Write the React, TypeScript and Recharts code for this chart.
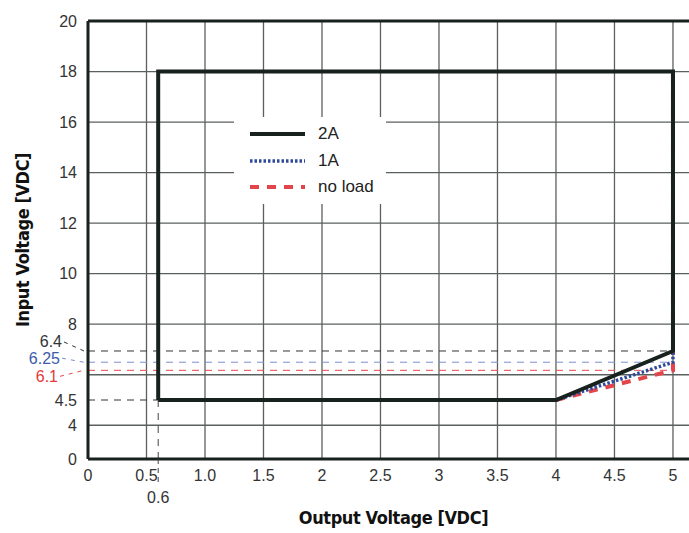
import React from 'react';
import { LineChart, Line, XAxis, YAxis, ReferenceLine, Legend } from 'recharts';

// output voltage axis
const xTicks = [0, 0.5, 0.6, 1, 1.5, 2, 2.5, 3, 3.5, 4, 4.5, 5];
const xTickLabels = ['0', '0.5', '0.6', '1.0', '1.5', '2', '2.5', '3', '3.5', '4', '4.5', '5'];
const xGrid = [0.5, 1, 1.5, 2, 2.5, 3, 3.5, 4, 4.5, 5];

// input voltage axis (drawn non-linear in the datasheet)
const yTicks = [0, 4, 4.5, 6.1, 6.25, 6.4, 8, 10, 12, 14, 16, 18, 20];
const yTickLabels = ['0', '4', '4.5', '6.1', '6.25', '6.4', '8', '10', '12', '14', '16', '18', '20'];
const yGrid = [4, 6, 8, 10, 12, 14, 16, 18];
// breakpoints of that axis: real volts -> drawn units
const yAxisReal = [0, 4, 4.5, 6, 6.1, 6.25, 6.4, 8, 20];
const yAxisDrawn = [0, 1.335, 2.335, 3.335, 3.51, 3.83, 4.275, 5.335, 17.335];

// operating area per load
const seriesNames = ['2A', '1A', 'no load'];
const vout2A = [0.6, 0.6, 5, 5, 4, 0.6];
const vin2A = [4.5, 18, 18, 6.4, 4.5, 4.5];
const vout1A = [4, 5, 5];
const vin1A = [4.5, 6.25, 18];
const voutNoLoad = [4, 5, 5];
const vinNoLoad = [4.5, 6.1, 18];

// min input voltage markers
const vinMarks = [6.4, 6.25, 6.1];
const minVout = 0.6;
const minVin = 4.5;

const X_MAX = 5.137;

function toDrawn(v: number) {
  for (let i = 1; i < yAxisReal.length; i++) {
    if (v <= yAxisReal[i]) {
      const a = yAxisReal[i - 1], b = yAxisReal[i];
      const t = (v - a) / (b - a);
      return yAxisDrawn[i - 1] + t * (yAxisDrawn[i] - yAxisDrawn[i - 1]);
    }
  }
  return yAxisDrawn[yAxisDrawn.length - 1];
}

const toPoints = (xs: number[], ys: number[]) => xs.map((x, i) => ({ x, y: toDrawn(ys[i]) }));

const FRAME = '#17211e';
const GRID = '#5a605d';
const BLUE = '#2f4a9c';
const RED = '#e2464a';
const FONT = "'Liberation Sans', Arial, sans-serif";
const TITLE_FONT = "'Liberation Sans Narrow', 'DejaVu Sans Condensed', 'Liberation Sans', sans-serif";
const titleStyle = { fontFamily: TITLE_FONT, fontWeight: 700, fontSize: 18, letterSpacing: -0.4, fill: '#111' };

const markStyle: Record<string, { color: string; line: string; dx: number; dy: number }> = {
  '6.4': { color: '#333', line: '#333', dx: -26, dy: -9 },
  '6.25': { color: '#3d5ba9', line: '#7b8fcc', dx: -28, dy: -4 },
  '6.1': { color: '#e5383b', line: '#e8474c', dx: -30, dy: 6 },
};

function YTick(props: any) {
  const { x, y, index } = props;
  const label = yTickLabels[index];
  const s = markStyle[label];
  if (s) {
    return (
      <g>
        <text x={x + s.dx} y={y + s.dy} textAnchor="end" dominantBaseline="central"
          fontSize={16} fill={s.color} fontFamily={FONT}>{label}</text>
        <line x1={x + s.dx + 2} y1={y + s.dy} x2={x - 4} y2={y} stroke={s.line}
          strokeWidth={1} strokeDasharray="4 5" />
      </g>
    );
  }
  return (
    <text x={x - 11} y={y} textAnchor="end" dominantBaseline="central"
      fontSize={16} fill="#333" fontFamily={FONT}>{label}</text>
  );
}

function XTick(props: any) {
  const { x, y, index } = props;
  const label = xTickLabels[index];
  if (label === '0.6') {
    return (
      <g>
        <line x1={x} y1={y} x2={x} y2={y + 25} stroke="#444" strokeDasharray="5 4" strokeWidth={1} />
        <text x={x} y={y + 38} textAnchor="middle" dominantBaseline="central"
          fontSize={16} fill="#333" fontFamily={FONT}>{label}</text>
      </g>
    );
  }
  return (
    <text x={x} y={y + 16} textAnchor="middle" dominantBaseline="central"
      fontSize={16} fill="#333" fontFamily={FONT}>{label}</text>
  );
}

function LegendBox() {
  const samples = [
    { stroke: FRAME, width: 4, dash: undefined },
    { stroke: BLUE, width: 3.5, dash: '2.5 2' },
    { stroke: RED, width: 4, dash: '9 8' },
  ];
  return (
    <div style={{ background: '#fff', width: 152, height: 87, boxSizing: 'border-box', paddingTop: 4 }}>
      {seriesNames.map((name, i) => (
        <div key={name} style={{ display: 'flex', alignItems: 'center', height: 26.5 }}>
          <svg width={84} height={10} style={{ display: 'block' }}>
            <line x1={16} y1={5} x2={71} y2={5} stroke={samples[i].stroke}
              strokeWidth={samples[i].width} strokeDasharray={samples[i].dash} />
          </svg>
          <span style={{ fontFamily: FONT, fontSize: 17, color: '#222' }}>{name}</span>
        </div>
      ))}
    </div>
  );
}

export default function App() {
  const yMax = yAxisDrawn[yAxisDrawn.length - 1];
  return (
    <div style={{ position: 'fixed', left: 0, top: 0, width: 689, height: 533, background: '#fff' }}>
      <LineChart width={689} height={533} margin={{ top: 21, right: 0, bottom: 0, left: 0 }}>
        <XAxis dataKey="x" type="number" domain={[0, X_MAX]} ticks={xTicks} interval={0}
          allowDataOverflow height={74} tickSize={0} tickMargin={0} tickLine={false}
          tick={<XTick />} axisLine={{ stroke: FRAME, strokeWidth: 3 }}
          label={{ value: 'Output Voltage [VDC]', position: 'insideBottom', offset: 9, dx: 5, style: titleStyle }} />
        <YAxis dataKey="y" type="number" domain={[0, yMax]} ticks={yTicks.map(toDrawn)} interval={0}
          allowDataOverflow width={88} tickSize={0} tickMargin={0} tickLine={false}
          tick={<YTick />} axisLine={{ stroke: FRAME, strokeWidth: 3 }}
          label={{ value: 'Input Voltage [VDC]', angle: -90, position: 'insideLeft', offset: 23,
            style: { ...titleStyle, textAnchor: 'middle' } }} />

        {xGrid.map(v => (
          <ReferenceLine key={'gx' + v} x={v} stroke={GRID} strokeWidth={1.3} />
        ))}
        {yGrid.map(v => (
          <ReferenceLine key={'gy' + v} y={toDrawn(v)} stroke={GRID} strokeWidth={1.3} />
        ))}
        <ReferenceLine y={yMax} stroke={FRAME} strokeWidth={3} />

        {vinMarks.map(v => (
          <ReferenceLine key={'m' + v} segment={[{ x: 0, y: toDrawn(v) }, { x: 5, y: toDrawn(v) }]}
            stroke={markStyle[String(v)].line} strokeWidth={1} strokeDasharray="7 6" />
        ))}
        <ReferenceLine segment={[{ x: 0, y: toDrawn(minVin) }, { x: minVout, y: toDrawn(minVin) }]}
          stroke="#333" strokeWidth={1} strokeDasharray="7 6" />
        <ReferenceLine segment={[{ x: minVout, y: 0 }, { x: minVout, y: toDrawn(minVin) }]}
          stroke="#444" strokeWidth={1} strokeDasharray="7 6" />

        <Line data={toPoints(voutNoLoad, vinNoLoad)} dataKey="y" name={seriesNames[2]} type="linear"
          stroke={RED} strokeWidth={4} strokeDasharray="9 8" dot={false} isAnimationActive={false} />
        <Line data={toPoints(vout1A, vin1A)} dataKey="y" name={seriesNames[1]} type="linear"
          stroke={BLUE} strokeWidth={3.5} strokeDasharray="2.5 2" dot={false} isAnimationActive={false} />
        <Line data={toPoints(vout2A, vin2A)} dataKey="y" name={seriesNames[0]} type="linear"
          stroke={FRAME} strokeWidth={4} dot={false} isAnimationActive={false} />

        <Legend layout="horizontal" verticalAlign="middle" align="center" content={<LegendBox />}
          wrapperStyle={{ position: 'absolute', left: 234, top: 117, width: 152, height: 87 }} />
      </LineChart>
    </div>
  );
}
